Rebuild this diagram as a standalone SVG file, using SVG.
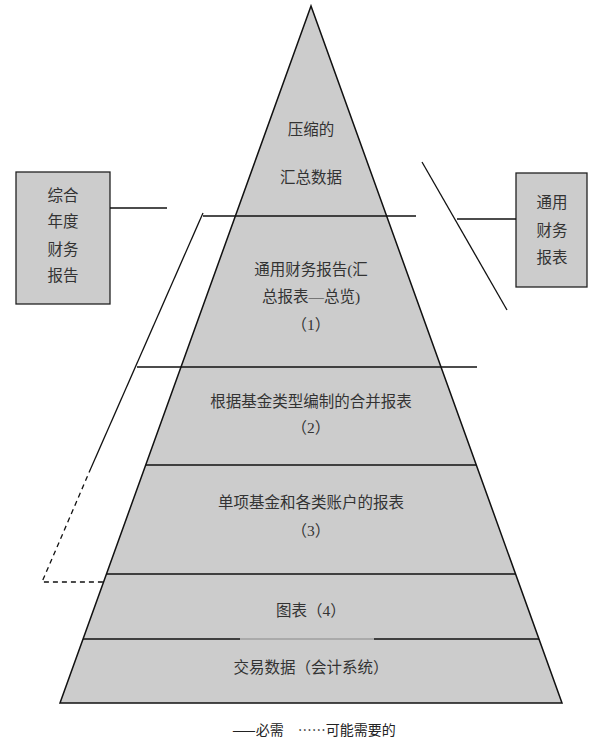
<svg xmlns="http://www.w3.org/2000/svg" width="600" height="748" viewBox="0 0 600 748">
<style>
.t{font-family:"Liberation Serif","Noto Sans CJK SC",serif;font-size:15.5px;fill:#333;text-anchor:middle}
.ln{stroke:#111;stroke-width:1.3;fill:none}
.box{fill:#cccccc;stroke:#222;stroke-width:1.3}
.lg{font-family:"Noto Sans CJK SC","Liberation Sans",sans-serif;font-size:14px;fill:#222;text-anchor:middle}
</style>
<rect width="600" height="748" fill="#fff"/>
<g id="pyramid">
<polygon points="311,6 60,703 562,703" fill="#cccccc" stroke="#111" stroke-width="1.5" stroke-linejoin="miter"/>
<text class="t" x="311" y="135">压缩的</text>
<text class="t" x="311" y="183">汇总数据</text>
</g>
<g id="level1">
<text class="t" x="311" y="275">通用财务报告(汇</text>
<text class="t" x="311" y="302">总报表—总览)</text>
<text class="t" x="311" y="330">（1）</text>
</g>
<g id="level2">
<text class="t" x="311" y="407">根据基金类型编制的合并报表</text>
<text class="t" x="311" y="433">（2）</text>
</g>
<g id="level3">
<text class="t" x="311" y="508">单项基金和各类账户的报表</text>
<text class="t" x="311" y="536">（3）</text>
</g>
<g id="level4">
<text class="t" x="311" y="616">图表（4）</text>
</g>
<g id="level5">
<text class="t" x="311" y="673">交易数据（会计系统）</text>
</g>
<g id="leftbox">
<rect class="box" x="16" y="172" width="94" height="132"/>
<text class="t" x="63" y="201">综合</text>
<text class="t" x="63" y="227">年度</text>
<text class="t" x="63" y="255">财务</text>
<text class="t" x="63" y="281">报告</text>
</g>
<g id="rightbox">
<rect class="box" x="516" y="173" width="71" height="114"/>
<text class="t" x="552" y="208">通用</text>
<text class="t" x="552" y="236">财务</text>
<text class="t" x="552" y="263">报表</text>
</g>
<g id="connectors">
<line class="ln" x1="203" y1="216" x2="416" y2="216"/>
<line class="ln" x1="137" y1="367" x2="477" y2="367"/>
<line class="ln" x1="146" y1="465" x2="476" y2="465"/>
<line class="ln" x1="106" y1="574" x2="516" y2="574"/>
<line class="ln" x1="83" y1="639" x2="240" y2="639"/>
<line x1="240" y1="639" x2="374" y2="639" stroke="#888" stroke-width="1"/>
<line class="ln" x1="374" y1="639" x2="539" y2="639"/>
<line class="ln" x1="110" y1="208" x2="167" y2="208"/>
<line class="ln" x1="457" y1="219" x2="516" y2="219"/>
<line class="ln" x1="422" y1="162" x2="507" y2="310"/>
<line class="ln" x1="203" y1="213" x2="91" y2="468"/>
<polyline class="ln" points="91,468 42,582 103,582" stroke-dasharray="5,4"/>
</g>
<g id="legend">
<text class="lg" x="314" y="735">——必需　……可能需要的</text>
</g>
</svg>
